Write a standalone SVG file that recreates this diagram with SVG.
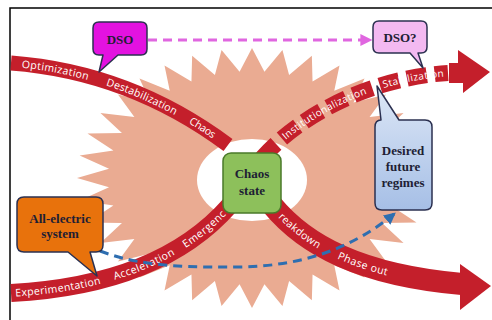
<svg xmlns="http://www.w3.org/2000/svg" xmlns:xlink="http://www.w3.org/1999/xlink" width="492" height="320" viewBox="0 0 492 320">
<style>
.band{fill:none;stroke:#C41F2B;stroke-linecap:butt}
.bt{font-family:"Open Sans","Liberation Sans",sans-serif;font-size:10.5px;fill:#ffffff}
.nt{font-family:"Liberation Serif","Times New Roman",serif;font-weight:bold;font-size:13px;fill:#1e1e34;text-anchor:middle}
.co{stroke:#2b3050;stroke-width:1.5;stroke-linejoin:round}
.dash{fill:none;stroke-width:3;stroke-dasharray:9 6}
</style>
<defs>
<path id="pUL" d="M11,63 Q130,72 228,145"/>
<path id="pLL" d="M11,293 Q160,285 230,205"/>
<path id="pLR" d="M272,205 C305,245 360,275 462,284"/>
<path id="pUR" d="M262,158 C300,115 370,78 448,73"/>
<linearGradient id="gBlue" x1="0" y1="0" x2="0" y2="1">
<stop offset="0" stop-color="#DDE7F6"/>
<stop offset="1" stop-color="#A6BFE6"/>
</linearGradient>
<marker id="mMag" viewBox="0 0 10 10" refX="8" refY="5" markerWidth="4" markerHeight="4" orient="auto"><path d="M0,0 L10,5 L0,10 z" fill="#E066E0"/></marker>
<marker id="mBlue" viewBox="0 0 10 10" refX="8" refY="5" markerWidth="4" markerHeight="4" orient="auto"><path d="M0,0 L10,5 L0,10 z" fill="#2E6EB0"/></marker>
</defs>
<rect x="0" y="0" width="492" height="320" fill="#ffffff"/>
<path d="M10,320 V8 H492" fill="none" stroke="#000000" stroke-width="1.5"/>
<g id="background">
<polygon fill="#EAAB92" transform="translate(252,178) scale(1.75,1.3)" points="100,0 81.7,7.1 98.5,17.4 79.2,21.2 94,34.2 74.3,34.6 86.6,50 67.2,47 76.6,64.3 58,58 64.3,76.6 47,67.2 50,86.6 34.6,74.3 34.2,94 21.2,79.2 17.4,98.5 7.1,81.7 0,100 -7.1,81.7 -17.4,98.5 -21.2,79.2 -34.2,94 -34.6,74.3 -50,86.6 -47,67.2 -64.3,76.6 -58,58 -76.6,64.3 -67.2,47 -86.6,50 -74.3,34.6 -94,34.2 -79.2,21.2 -98.5,17.4 -81.7,7.1 -100,0 -81.7,-7.1 -98.5,-17.4 -79.2,-21.2 -94,-34.2 -74.3,-34.6 -86.6,-50 -67.2,-47 -76.6,-64.3 -58,-58 -64.3,-76.6 -47,-67.2 -50,-86.6 -34.6,-74.3 -34.2,-94 -21.2,-79.2 -17.4,-98.5 -7.1,-81.7 0,-100 7.1,-81.7 17.4,-98.5 21.2,-79.2 34.2,-94 34.6,-74.3 50,-86.6 47,-67.2 64.3,-76.6 58,-58 76.6,-64.3 67.2,-47 86.6,-50 74.3,-34.6 94,-34.2 79.2,-21.2 98.5,-17.4 81.7,-7.1"/>
<ellipse cx="252" cy="180" rx="55" ry="41" fill="#ffffff"/>
</g>
<g id="flows">
<use xlink:href="#pUL" href="#pUL" class="band" stroke-width="15"/>
<use xlink:href="#pLL" href="#pLL" class="band" stroke-width="18"/>
<use xlink:href="#pLR" href="#pLR" class="band" stroke-width="22"/>
<polygon points="460,264 491,286 460,310" fill="#C41F2B"/>
<use xlink:href="#pUR" href="#pUR" class="band" stroke-width="16" stroke-dasharray="20 8"/>
<polygon points="449,63 458,63 458,50 490,72 463,93 463,83 449,83" fill="#C41F2B"/>
<text class="bt" dy="3.7"><textPath xlink:href="#pUL" href="#pUL" startOffset="11" textLength="68" lengthAdjust="spacing">Optimization</textPath></text>
<text class="bt" dy="3.7"><textPath xlink:href="#pUL" href="#pUL" startOffset="98" textLength="76" lengthAdjust="spacing">Destabilization</textPath></text>
<text class="bt" dy="3.7"><textPath xlink:href="#pUL" href="#pUL" startOffset="190" textLength="29" lengthAdjust="spacing">Chaos</textPath></text>
<text class="bt" dy="3.7"><textPath xlink:href="#pLL" href="#pLL" startOffset="4" textLength="86" lengthAdjust="spacing">Experimentation</textPath></text>
<text class="bt" dy="3.7"><textPath xlink:href="#pLL" href="#pLL" startOffset="104" textLength="65" lengthAdjust="spacing">Acceleration</textPath></text>
<text class="bt" dy="3.7"><textPath xlink:href="#pLL" href="#pLL" startOffset="181" textLength="52" lengthAdjust="spacing">Emergenc</textPath></text>
<text class="bt" dy="3.7"><textPath xlink:href="#pLR" href="#pLR" startOffset="13" textLength="50" lengthAdjust="spacing">reakdown</textPath></text>
<text class="bt" dy="3.7"><textPath xlink:href="#pLR" href="#pLR" startOffset="84" textLength="52" lengthAdjust="spacing">Phase out</textPath></text>
<text class="bt" dy="3.5" style="font-size:10px"><textPath xlink:href="#pUR" href="#pUR" startOffset="30" textLength="95" lengthAdjust="spacing">Institutionalization</textPath></text>
<text class="bt" dy="3.5" style="font-size:10px"><textPath xlink:href="#pUR" href="#pUR" startOffset="143" textLength="62" lengthAdjust="spacing">Stabilization</textPath></text>
</g>
<g id="connectors">
<path d="M148,40 H370" class="dash" stroke="#E066E0" marker-end="url(#mMag)"/>
<path d="M100,251 C130,262 160,268 240,267 C300,266 350,250 394,214" class="dash" stroke="#2E6EB0" stroke-width="2.5" stroke-dasharray="8 5" marker-end="url(#mBlue)"/>
</g>
<g id="node-dso">
<path class="co" fill="#E312E0" d="M99,22 H141 Q147,22 147,28 V49 Q147,55 141,55 H118 L99,72 L103,55 H99 Q93,55 93,49 V28 Q93,22 99,22 Z"/>
<text class="nt" x="120" y="43.5" fill="#3a1a55">DSO</text>
</g>
<g id="node-dso2">
<path class="co" fill="#F3B9F1" d="M379,21 H421 Q427,21 427,27 V47 Q427,53 421,53 H418 L423,68 L410,53 H379 Q373,53 373,47 V27 Q373,21 379,21 Z"/>
<text class="nt" x="400" y="42">DSO?</text>
</g>
<g id="node-desired">
<path class="co" fill="url(#gBlue)" d="M381,120 L377,86 L399,120 H425 Q432,120 432,127 V203 Q432,210 425,210 H382 Q375,210 375,203 V127 Q375,120 381,120 Z"/>
<text class="nt" x="403" y="155">Desired</text>
<text class="nt" x="403" y="171">future</text>
<text class="nt" x="403" y="187">regimes</text>
</g>
<g id="node-allelectric">
<path class="co" fill="#E8720C" stroke="#3a3a3a" d="M24,197 H96 Q103,197 103,204 V245 Q103,252 96,252 H90 L97,276 L68,252 H24 Q17,252 17,245 V204 Q17,197 24,197 Z"/>
<text class="nt" x="60" y="223">All-electric</text>
<text class="nt" x="60" y="238">system</text>
</g>
<g id="node-chaos">
<rect x="223" y="153" width="58" height="60" rx="8" fill="#8DC05B" stroke="#4A7A2A" stroke-width="1.5"/>
<text class="nt" x="252" y="178">Chaos</text>
<text class="nt" x="252" y="195">state</text>
</g>
</svg>
